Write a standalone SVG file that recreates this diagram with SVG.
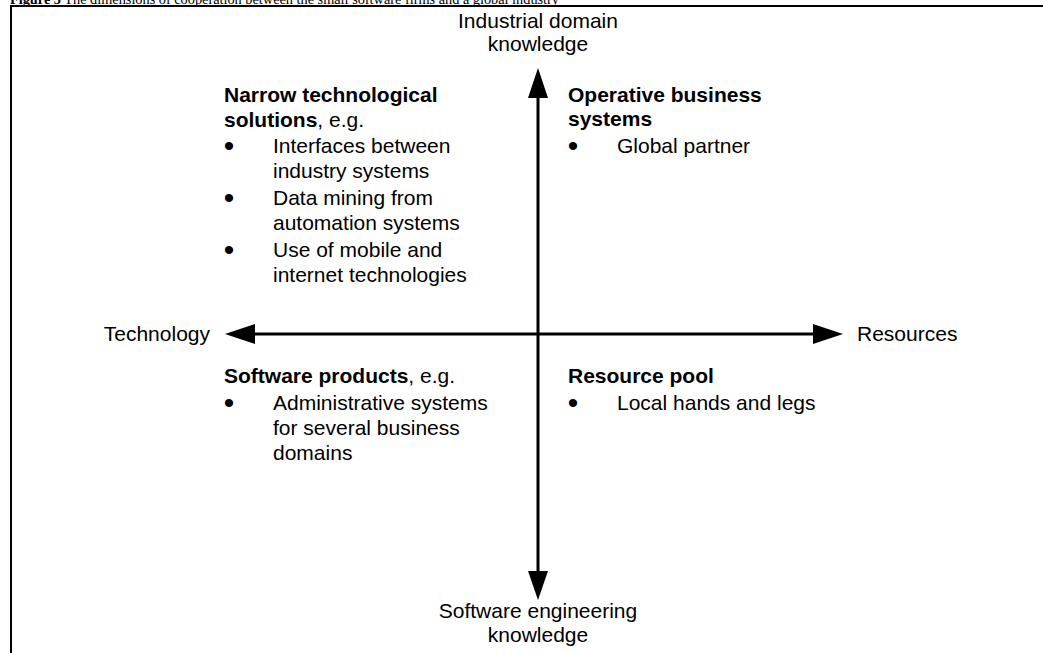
<svg xmlns="http://www.w3.org/2000/svg" width="1043" height="653" viewBox="0 0 1043 653">
  <style>
    .cap { font-family: "Liberation Serif", "Times New Roman", serif; font-size: 14.3px; fill: #000; }
    .t { font-family: "Liberation Sans", Arial, sans-serif; font-size: 21px; fill: #000; }
    .b { font-weight: bold; }
    .mid { text-anchor: middle; }
    .end { text-anchor: end; }
    .dot { font-family: "Liberation Sans", Arial, sans-serif; font-size: 30px; text-anchor: middle; fill: #000; }
    .axis { stroke: #000; stroke-width: 3; fill: none; }
    .head { fill: #000; }
    .frame { stroke: #000; stroke-width: 2; fill: none; }
  </style>
  <rect width="1043" height="653" fill="#fff"/>

  <!-- caption and frame -->
  <text class="cap" x="10" y="4"><tspan class="b">Figure 5</tspan> The dimensions of cooperation between the small software firms and a global industry</text>
  <path class="frame" d="M11,653 V6 H1043"/>

  <!-- axes -->
  <g id="connectors">
    <line class="axis" x1="538" y1="95" x2="538" y2="574"/>
    <polygon class="head" points="538,68 528,98 548,98"/>
    <polygon class="head" points="538,600 528,571 548,571"/>
    <line class="axis" x1="252" y1="334" x2="816" y2="334"/>
    <polygon class="head" points="225,334 255,324 255,344"/>
    <polygon class="head" points="843,334 813,324 813,344"/>
  </g>

  <!-- axis labels -->
  <g id="label-top">
    <text class="t mid" x="538" y="28">Industrial domain</text>
    <text class="t mid" x="538" y="51">knowledge</text>
  </g>
  <g id="label-bottom">
    <text class="t mid" x="538" y="618">Software engineering</text>
    <text class="t mid" x="538" y="642">knowledge</text>
  </g>
  <g id="label-left">
    <text class="t end" x="210" y="341">Technology</text>
  </g>
  <g id="label-right">
    <text class="t" x="857" y="341">Resources</text>
  </g>

  <!-- quadrant: top left -->
  <g id="q-narrow">
    <text class="t b" x="224" y="102">Narrow technological</text>
    <text class="t" x="224" y="127"><tspan class="b">solutions</tspan>, e.g.</text>
    <text class="dot" x="229" y="156">•</text>
    <text class="t" x="273" y="153">Interfaces between</text>
    <text class="t" x="273" y="178">industry systems</text>
    <text class="dot" x="229" y="208">•</text>
    <text class="t" x="273" y="205">Data mining from</text>
    <text class="t" x="273" y="230">automation systems</text>
    <text class="dot" x="229" y="260">•</text>
    <text class="t" x="273" y="257">Use of mobile and</text>
    <text class="t" x="273" y="282">internet technologies</text>
  </g>

  <!-- quadrant: top right -->
  <g id="q-operative">
    <text class="t b" x="568" y="102">Operative business</text>
    <text class="t b" x="568" y="126">systems</text>
    <text class="dot" x="573" y="156">•</text>
    <text class="t" x="617" y="153">Global partner</text>
  </g>

  <!-- quadrant: bottom left -->
  <g id="q-software">
    <text class="t" x="224" y="383"><tspan class="b">Software products</tspan>, e.g.</text>
    <text class="dot" x="229" y="413">•</text>
    <text class="t" x="273" y="410">Administrative systems</text>
    <text class="t" x="273" y="435">for several business</text>
    <text class="t" x="273" y="460">domains</text>
  </g>

  <!-- quadrant: bottom right -->
  <g id="q-resource">
    <text class="t b" x="568" y="383">Resource pool</text>
    <text class="dot" x="573" y="413">•</text>
    <text class="t" x="617" y="410">Local hands and legs</text>
  </g>
</svg>
